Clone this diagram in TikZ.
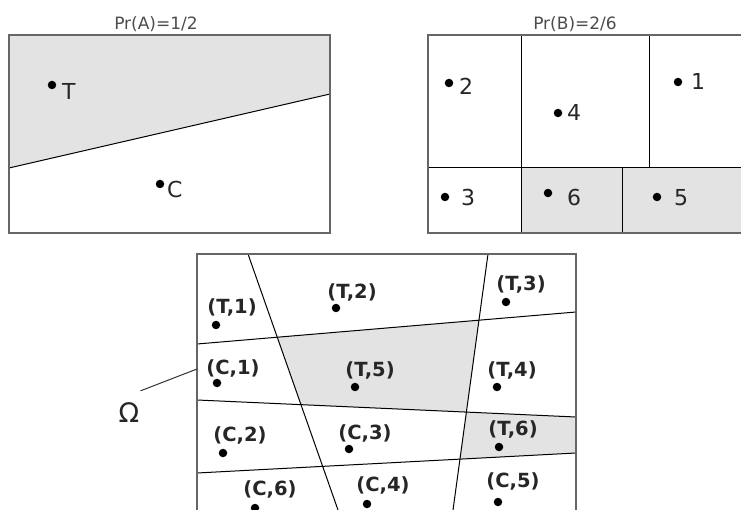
\documentclass[tikz,border=0pt]{standalone}
\usepackage{fontspec}
\setmainfont{DejaVu Sans}
\usepackage{tikz}
\usetikzlibrary{positioning}

\begin{document}
\begin{tikzpicture}[x=1pt, y=-1pt,
                frame/.style={draw=black!60, line width=1.6pt},
                cut/.style={draw=black, line width=1pt},
                shade/.style={fill=black!11},
                dot/.style={circle, fill=black, inner sep=0pt, minimum size=8.5pt},
                title/.style={text=black!70, inner sep=0pt, font=\fontsize{17}{19}\selectfont},
                outcome/.style={anchor=base west, inner sep=0pt, text=black!85, font=\fontsize{22}{24}\selectfont},
                pair/.style={inner sep=0pt, text=black!85, font=\bfseries\fontsize{19.5}{21}\selectfont},
                pointer/.style={draw=black!80, line width=1pt}
            ]
                \clip (0,0) rectangle (741,510);

                % Panel A: coin
                \fill[shade] (9,35) -- (330,35) -- (330,94) -- (9,168) -- cycle;
                \draw[cut] (9,168) -- (330,94);
                \draw[frame] (9,35) rectangle (330,233);
                \node[title] (prA) at (156,24) {Pr(A)=1/2};

                \node[dot] (aT) at (52,85) {};
                \node[dot] (aC) at (160,184) {};
                \node[outcome] (laT) at (62,100) {T};
                \node[outcome] (laC) at (167,198) {C};

                % Panel B: die
                \fill[shade] (521,168) rectangle (745,233);
                \draw[cut] (428,168) -- (745,168);
                \draw[cut] (521,35) -- (521,233);
                \draw[cut] (649,35) -- (649,168);
                \draw[cut] (622,168) -- (622,233);
                \draw[frame] (428,35) rectangle (745,233);
                \node[title] (prB) at (575,24) {Pr(B)=2/6};

                \node[dot] (b2) at (449,83) {};
                \node[dot] (b4) at (558,113) {};
                \node[dot] (b1) at (678,82) {};
                \node[dot] (b3) at (445,197) {};
                \node[dot] (b6) at (548,193) {};
                \node[dot] (b5) at (657,197) {};
                \node[outcome] (lb2) at (459,95) {2};
                \node[outcome] (lb4) at (567,121) {4};
                \node[outcome] (lb1) at (691,90) {1};
                \node[outcome] (lb3) at (461,206) {3};
                \node[outcome] (lb6) at (567,206) {6};
                \node[outcome] (lb5) at (674,206) {5};

                % Panel Omega: pairs
                \fill[shade] (277.3,337.2) -- (479.0,320.1) -- (466.4,412.1) -- (301.0,404.7) -- cycle;
                \fill[shade] (466.4,412.1) -- (576,417) -- (576,453) -- (460.0,459.1) -- cycle;
                \draw[cut] (248,254) -- (338,510);
                \draw[cut] (488,254) -- (453,510);
                \draw[cut] (197,344) -- (576,312);
                \draw[cut] (197,400) -- (576,417);
                \draw[cut] (197,473) -- (576,453);
                \draw[frame] (197,254) rectangle (576,520);

                \node[dot] (t1) at (216,325) {};
                \node[dot] (t2) at (336,308) {};
                \node[dot] (t3) at (506,302) {};
                \node[dot] (c1) at (217,383) {};
                \node[dot] (t5) at (355,387) {};
                \node[dot] (t4) at (497,387) {};
                \node[dot] (c2) at (223,453) {};
                \node[dot] (c3) at (349,449) {};
                \node[dot] (t6) at (499,447) {};
                \node[dot] (c6) at (255,508) {};
                \node[dot] (c4) at (367,504) {};
                \node[dot] (c5) at (498,502) {};

                \node[pair] (lt1) at (232,307) {(T,1)};
                \node[pair] (lt2) at (352,292) {(T,2)};
                \node[pair] (lt3) at (521,284) {(T,3)};
                \node[pair] (lc1) at (233,368) {(C,1)};
                \node[pair] (lt5) at (370,370) {(T,5)};
                \node[pair] (lt4) at (512,370) {(T,4)};
                \node[pair] (lc2) at (240,435) {(C,2)};
                \node[pair] (lc3) at (365,433) {(C,3)};
                \node[pair] (lt6) at (513,429) {(T,6)};
                \node[pair] (lc6) at (270,489) {(C,6)};
                \node[pair] (lc4) at (383,485) {(C,4)};
                \node[pair] (lc5) at (513,481) {(C,5)};

                % Omega label
                \node[inner sep=0pt, text=black!85, font=\fontsize{27}{29}\selectfont] (omega) at (129,413) {Ω};
                \coordinate (omtip) at (197,369);
                \draw[pointer] ([xshift=1pt, yshift=12pt]omega.north east) -- (omtip);
            \end{tikzpicture}
\end{document}
